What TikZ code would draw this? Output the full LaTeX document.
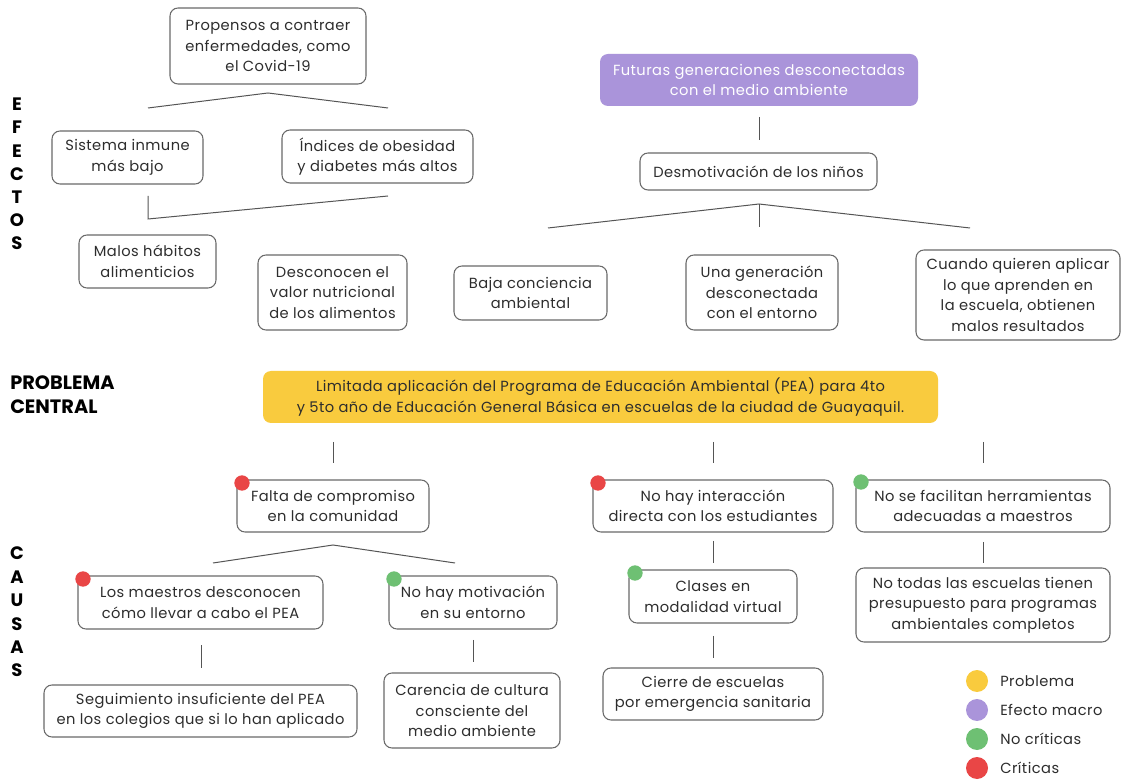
\documentclass[tikz,border=0pt]{standalone}
\usepackage{fontspec}
\setmainfont{Poppins}[LetterSpace=3]
\newfontfamily\labelfont{Poppins}
\definecolor{boxgray}{RGB}{105,105,105}
\definecolor{linegray}{RGB}{85,85,85}
\definecolor{txtgray}{RGB}{45,45,45}
\definecolor{probyellow}{RGB}{249,203,62}
\definecolor{macropurple}{RGB}{170,148,218}
\definecolor{dotgreen}{RGB}{110,192,115}
\definecolor{dotred}{RGB}{233,70,70}
\newcommand\placebox[6]{\node[#1, minimum width={(#4-#2)*0.75pt}, minimum height={(#5-#3)*0.75pt}] (#6) at ({(#2+#4)/2},{(#3+#5)/2})}
\tikzset{
  box/.style={draw=boxgray, line width=0.8pt, rounded corners=6pt, inner sep=0pt,
    align=center, text=txtgray, font=\fontsize{11}{15.4}\selectfont},
  filledbox/.style={rounded corners=6pt, inner sep=0pt, align=center,
    font=\fontsize{11}{15.4}\selectfont},
  conn/.style={draw=linegray, line width=0.75pt},
  dot/.style={circle, inner sep=0pt, minimum size=11.5pt},
  legdot/.style={circle, inner sep=0pt, minimum size=16.5pt},
  sidelabel/.style={font=\labelfont\fontsize{13.5}{17.4}\selectfont\bfseries, align=center, text=black, inner sep=0pt},
  leglabel/.style={anchor=west, inner sep=0pt, font=\fontsize{11}{13}\selectfont, text=txtgray}
}
\begin{document}
\begin{tikzpicture}[x=0.75pt,y=-0.75pt]
\useasboundingbox[fill=white] (0,0) rectangle (1122,780);

% side labels
\node[sidelabel] (efectos) at (17,174) {E\\F\\E\\C\\T\\O\\S};
\node[sidelabel, font=\labelfont\fontsize{13.5}{17.6}\selectfont\bfseries] (causas) at (17,612) {C\\A\\U\\S\\A\\S};
\node[sidelabel, anchor=west, align=left, font=\labelfont\fontsize{14.5}{18}\selectfont\bfseries] (pc) at (10,395) {PROBLEMA\\CENTRAL};

% effects (left)
\placebox{box}{170}{8}{366}{84}{prop} {Propensos a contraer\\enfermedades, como\\el Covid-19};
\placebox{box}{52}{131}{203}{184}{sist} {Sistema inmune\\más bajo};
\placebox{box}{282}{130}{473}{183}{indi} {Índices de obesidad\\y diabetes más altos};
\placebox{box}{79}{235}{216}{288}{malos} {Malos hábitos\\alimenticios};
\placebox{box}{258}{255}{407}{330}{desc} {Desconocen el\\valor nutricional\\de los alimentos};

% effects (right)
\placebox{filledbox, fill=macropurple, text=white}{600}{54}{918}{106}{fut} {Futuras generaciones desconectadas\\con el medio ambiente};
\placebox{box}{640}{153}{877}{190}{desm} {Desmotivación de los niños};
\placebox{box}{454}{266}{607}{320}{baja} {Baja conciencia\\ambiental};
\placebox{box}{686}{255}{838}{330}{una} {Una generación\\desconectada\\con el entorno};
\placebox{box}{916}{250}{1120}{340}{cuando} {Cuando quieren aplicar\\lo que aprenden en\\la escuela, obtienen\\malos resultados};

% central problem
\placebox{filledbox, fill=probyellow, text=txtgray}{263}{371}{938}{423}{prob} {Limitada aplicación del Programa de Educación Ambiental (PEA) para 4to\\y 5to año de Educación General Básica en escuelas de la ciudad de Guayaquil.};

% causes
\placebox{box}{237}{480}{429}{532}{falta} {Falta de compromiso\\en la comunidad};
\placebox{box}{593}{480}{833}{532}{inter} {No hay interacción\\directa con los estudiantes};
\placebox{box}{856}{480}{1110}{532}{herr} {No se facilitan herramientas\\adecuadas a maestros};
\placebox{box}{78}{576}{323}{629}{maes} {Los maestros desconocen\\cómo llevar a cabo el PEA};
\placebox{box}{389}{576}{557}{629}{motiv} {No hay motivación\\en su entorno};
\placebox{box}{629}{570}{797}{623}{clases} {Clases en\\modalidad virtual};
\placebox{box}{856}{568}{1110}{642}{notodas} {No todas las escuelas tienen\\presupuesto para programas\\ambientales completos};
\placebox{box}{44}{685}{357}{737}{segu} {Seguimiento insuficiente del PEA\\en los colegios que si lo han aplicado};
\placebox{box}{384}{673}{560}{748}{caren} {Carencia de cultura\\consciente del\\medio ambiente};
\placebox{box}{603}{668}{823}{720}{cierre} {Cierre de escuelas\\por emergencia sanitaria};

% status dots
\node[dot, fill=dotred] (d1) at (242,483) {};
\node[dot, fill=dotred] (d2) at (598,483) {};
\node[dot, fill=dotgreen] (d3) at (861,482) {};
\node[dot, fill=dotred] (d4) at (83,579) {};
\node[dot, fill=dotgreen] (d5) at (394,579) {};
\node[dot, fill=dotgreen] (d6) at (635,573) {};

% connectors - effects left
\coordinate (a1) at (148,108);
\coordinate (a2) at (268,93);
\coordinate (a3) at (388,108);
\draw[conn] (a1) -- (a2) -- (a3);
\coordinate (b1) at (148,196);
\coordinate (b2) at (148,219);
\coordinate (b3) at (388,196);
\draw[conn] (b1) -- (b2) -- (b3);

% connectors - effects right
\coordinate (c1) at (759,117);
\coordinate (c2) at (759,140);
\draw[conn] (c1) -- (c2);
\coordinate (e1) at (548,228);
\coordinate (e2) at (759,204);
\coordinate (e3) at (970,228);
\coordinate (e4) at (759,227);
\draw[conn] (e1) -- (e2) -- (e3);
\draw[conn] (e2) -- (e4);

% connectors - causes
\coordinate (f1) at (333,442);
\coordinate (f2) at (333,463);
\draw[conn] (f1) -- (f2);
\coordinate (g1) at (713,442);
\coordinate (g2) at (713,463);
\draw[conn] (g1) -- (g2);
\coordinate (h1) at (983,442);
\coordinate (h2) at (983,463);
\draw[conn] (h1) -- (h2);
\coordinate (k1) at (213,563);
\coordinate (k2) at (333,545);
\coordinate (k3) at (455,563);
\draw[conn] (k1) -- (k2) -- (k3);
\coordinate (m1) at (201,645);
\coordinate (m2) at (201,668);
\draw[conn] (m1) -- (m2);
\coordinate (n1) at (473,640);
\coordinate (n2) at (473,662);
\draw[conn] (n1) -- (n2);
\coordinate (p1) at (713,541);
\coordinate (p2) at (713,563);
\draw[conn] (p1) -- (p2);
\coordinate (q1) at (713,636);
\coordinate (q2) at (713,658);
\draw[conn] (q1) -- (q2);
\coordinate (r1) at (983,542);
\coordinate (r2) at (983,563);
\draw[conn] (r1) -- (r2);

% legend
\node[legdot, fill=probyellow] (l1) at (977,681) {};
\node[legdot, fill=macropurple] (l2) at (977,710) {};
\node[legdot, fill=dotgreen] (l3) at (977,739) {};
\node[legdot, fill=dotred] (l4) at (977,768) {};
\node[leglabel] (t1) at (1000,681) {Problema};
\node[leglabel] (t2) at (1000,710) {Efecto macro};
\node[leglabel] (t3) at (1000,739) {No críticas};
\node[leglabel] (t4) at (1000,768) {Críticas};
\end{tikzpicture}
\end{document}
